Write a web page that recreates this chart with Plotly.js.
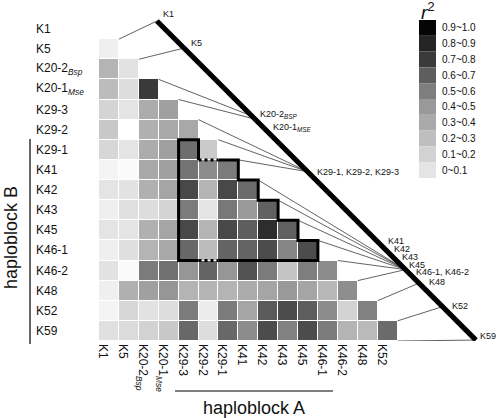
<!DOCTYPE html>
<html><head><meta charset="utf-8">
<script src="https://cdn.plot.ly/plotly-3.0.1.min.js"></script>
<style>html,body{margin:0;padding:0;background:#fff}#chart{width:498px;height:418px}</style>
</head><body><div id="chart"></div>
<script>
// ---- data ----
const markers = ['K1','K5','K20-2<sub><i>Bsp</i></sub>','K20-1<sub><i>Mse</i></sub>','K29-3','K29-2','K29-1','K41','K42','K43','K45','K46-1','K46-2','K48','K52','K59'];
const colLabels = markers.slice(0, 15);
// pairwise r^2 (lower triangle, row marker vs earlier column markers)
const r2_K1   = [];
const r2_K5   = [0.03];
const r2_K20_2= [0.30,0.06];
const r2_K20_1= [0.26,0.09,0.75];
const r2_K29_3= [0.14,0.05,0.34,0.41];
const r2_K29_2= [0.20,0.00,0.32,0.36,0.36];
const r2_K29_1= [0.12,0.05,0.34,0.41,0.60,0.19];
const r2_K41  = [0.02,0.01,0.36,0.41,0.58,0.50,0.56];
const r2_K42  = [0.05,0.06,0.32,0.38,0.71,0.30,0.71,0.61];
const r2_K43  = [0.03,0.07,0.09,0.14,0.56,0.05,0.57,0.45,0.64];
const r2_K45  = [0.05,0.05,0.32,0.38,0.71,0.30,0.71,0.65,0.81,0.64];
const r2_K46_1= [0.03,0.08,0.30,0.36,0.62,0.26,0.63,0.63,0.70,0.52,0.70];
const r2_K46_2= [0.06,0.01,0.56,0.59,0.46,0.63,0.46,0.68,0.56,0.22,0.55,0.50];
const r2_K48  = [0.03,0.32,0.41,0.46,0.30,0.30,0.30,0.34,0.38,0.45,0.38,0.28,0.49];
const r2_K52  = [0.02,0.12,0.06,0.09,0.56,0.035,0.56,0.38,0.66,0.70,0.65,0.50,0.15,0.54];
const r2_K59  = [0.07,0.10,0.15,0.20,0.62,0.09,0.62,0.50,0.70,0.54,0.70,0.56,0.30,0.27,0.61];
const r2Rows = [r2_K1,r2_K5,r2_K20_2,r2_K20_1,r2_K29_3,r2_K29_2,r2_K29_1,r2_K41,r2_K42,r2_K43,r2_K45,r2_K46_1,r2_K46_2,r2_K48,r2_K52,r2_K59];
// position of each marker along the map line (diagonal), in column units
const mapPos = [2.41,3.77,7.19,7.34,9.98,9.98,9.98,14.9,14.9,14.9,14.9,14.9,14.9,15.58,16.76,18.44];
const mapLabels = ['K1','K5','K20-2<sub><i>BSP</i></sub>','K20-1<sub><i>MSE</i></sub>','K29-1, K29-2, K29-3','K41','K42','K43','K45','K46-1, K46-2','K48','K52','K59'];
const mapLabelMarker = [0,1,2,3,4,7,8,9,10,11,13,14,15];
const legendLabels = ['0.9~1.0','0.8~0.9','0.7~0.8','0.6~0.7','0.5~0.6','0.4~0.5','0.3~0.4','0.2~0.3','0.1~0.2','0~0.1'];
const legendColors = ['#050505','#252525','#3a3a3a','#5e5e5e','#7e7e7e','#999999','#aaaaaa','#bebebe','#d2d2d2','#e4e4e4'];

// ---- build ----
const FONT = 'Liberation Sans, Arial, sans-serif';
const L=99, W=398, T=19, H=322;
const pxx = x => (x-L)/W, pxy = y => (T+H-y)/H;
const nC = colLabels.length, nR = markers.length;
const z = r2Rows.map((row,i) => colLabels.map((c,j) => j < i ? row[j] : null));
const xs = colLabels.map((c,j)=>j), ys = markers.map((m,i)=>i);

const colorscale = [[0,'#ffffff'],[0.05,'#e4e4e4'],[0.15,'#d2d2d2'],[0.25,'#bebebe'],[0.35,'#aaaaaa'],[0.45,'#999999'],[0.55,'#7e7e7e'],[0.65,'#5e5e5e'],[0.75,'#3a3a3a'],[0.85,'#252525'],[0.95,'#050505'],[1,'#000000']];

const diagY = x => -0.40 + (x - 2.41)*0.989;

const shapes = [];
const annotations = [];
// connectors
markers.forEach((m,k) => {
  const sx = k < nC ? k+0.5 : nC-0.5;
  const sy = k < nC ? k+0.5 : nR-0.5;
  shapes.push({type:'line',xref:'x',yref:'y',x0:sx,y0:sy,x1:mapPos[k],y1:diagY(mapPos[k]),line:{color:'#3a3a3a',width:0.8}});
});
// thick map line
shapes.push({type:'line',xref:'x',yref:'y',x0:mapPos[0],y0:diagY(mapPos[0]),x1:mapPos[nR-1],y1:diagY(mapPos[nR-1]),line:{color:'#000',width:5.2}});
// haploblock outline
shapes.push({type:'path',xref:'x',yref:'y',path:'M4.5,6.5 V5.5 H3.5 V11.5 H4.5',line:{color:'#000',width:3}});
shapes.push({type:'path',xref:'x',yref:'y',path:'M5.5,11.5 H10.5 V10.5 H9.5 V9.5 H8.5 V8.5 H7.5 V7.5 H6.5 V6.5 H5.5',line:{color:'#000',width:3}});
shapes.push({type:'line',xref:'x',yref:'y',x0:4.5,y0:6.5,x1:5.5,y1:6.5,line:{color:'#000',width:3,dash:'dot'}});
shapes.push({type:'line',xref:'x',yref:'y',x0:4.5,y0:11.5,x1:5.5,y1:11.5,line:{color:'#000',width:3,dash:'dot'}});
// haploblock brackets
shapes.push({type:'line',xref:'paper',yref:'paper',x0:pxx(30),x1:pxx(30),y0:pxy(139),y1:pxy(344),line:{color:'#000',width:1.2}});
shapes.push({type:'line',xref:'paper',yref:'paper',x0:pxx(175),x1:pxx(333),y0:pxy(391),y1:pxy(391),line:{color:'#000',width:1.2}});
// legend boxes
legendColors.forEach((c,i) => {
  shapes.push({type:'rect',xref:'paper',yref:'paper',x0:pxx(419),x1:pxx(436),y0:pxy(20+15.8*i),y1:pxy(20+15.8*(i+1)),fillcolor:c,line:{width:0}});
  annotations.push({xref:'paper',yref:'paper',x:pxx(440),y:pxy(20+15.8*(i+0.5)),text:legendLabels[i],showarrow:false,xanchor:'left',yanchor:'middle',font:{family:FONT,size:10,color:'#111'}});
});
annotations.push({xref:'paper',yref:'paper',x:pxx(428),y:pxy(11),text:'<i>r</i><sup>2</sup>',showarrow:false,xanchor:'center',yanchor:'middle',font:{family:FONT,size:19,color:'#111'}});
// row labels
markers.forEach((m,i) => {
  annotations.push({xref:'paper',yref:'y',x:pxx(34),y:i,text:m,showarrow:false,xanchor:'left',yanchor:'middle',font:{family:FONT,size:12,color:'#111'}});
});
// map labels
const lblShift = [[4,-7],[5,-5],[6,-2],[16,8],[7.5,0],[-19,-29],[-13,-21],[-5,-12.5],[2,-5],[9,2.5],[8,-1],[8,-1],[2,-4]];
mapLabels.forEach((t,i) => {
  const k = mapLabelMarker[i];
  annotations.push({xref:'x',yref:'y',x:mapPos[k],y:diagY(mapPos[k]),text:t,showarrow:false,xanchor:'left',yanchor:'middle',xshift:lblShift[i][0],yshift:-lblShift[i][1],font:{family:FONT,size:9,color:'#111'}});
});
// haploblock titles
annotations.push({xref:'paper',yref:'paper',x:pxx(254),y:pxy(408),text:'haploblock A',showarrow:false,xanchor:'center',yanchor:'middle',font:{family:FONT,size:18,color:'#111'}});
annotations.push({xref:'paper',yref:'paper',x:pxx(11),y:pxy(238),text:'haploblock B',showarrow:false,textangle:-90,xanchor:'center',yanchor:'middle',font:{family:FONT,size:18,color:'#111'}});

const trace = {type:'heatmap',x:xs,y:ys,z:z,colorscale:colorscale,zmin:0,zmax:1,showscale:false,xgap:1,ygap:1,hoverinfo:'skip'};

const layout = {
  width:498,height:418,margin:{l:L,r:498-L-W,t:T,b:418-T-H},
  paper_bgcolor:'#fff',plot_bgcolor:'#fff',showlegend:false,
  font:{family:FONT,size:12,color:'#111'},
  xaxis:{range:[-0.5,19.5],tickvals:xs,ticktext:colLabels,tickangle:90,ticklabelshift:-6,ticklabelstandoff:2,showgrid:false,zeroline:false,showline:false,ticks:'',tickfont:{family:FONT,size:12,color:'#111'},fixedrange:true},
  yaxis:{range:[nR-0.5,-0.5],showticklabels:false,showgrid:false,zeroline:false,showline:false,ticks:'',fixedrange:true},
  shapes:shapes,annotations:annotations
};
Plotly.newPlot('chart',[trace],layout,{displayModeBar:false,staticPlot:true});
</script></body></html>
